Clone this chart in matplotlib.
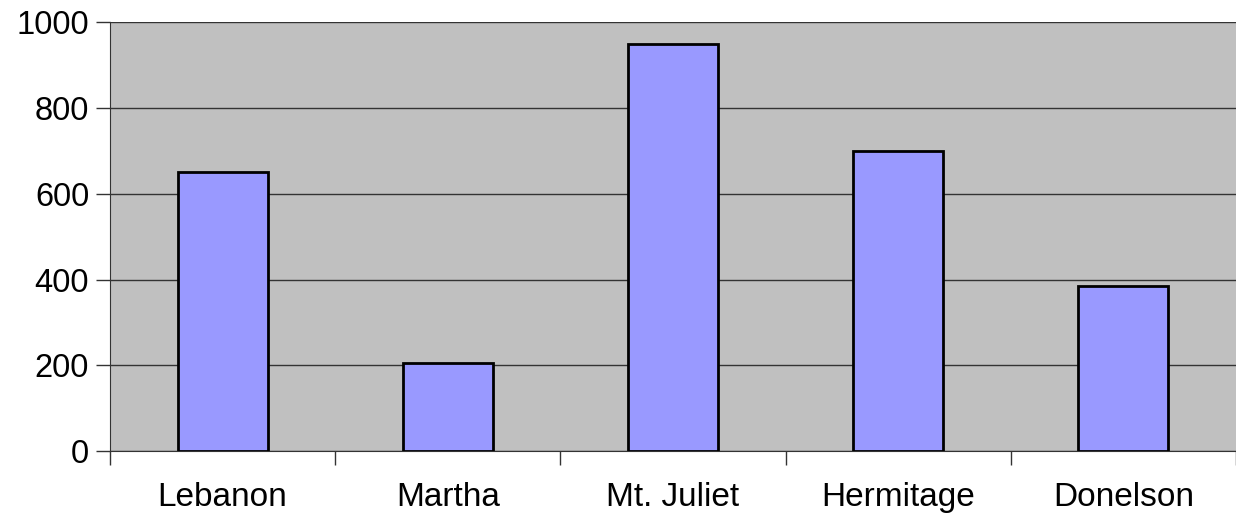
import numpy as np
import matplotlib.pyplot as plt

plt.rcParams['font.family'] = ['Liberation Sans', 'DejaVu Sans']

# data
towns = ['Lebanon', 'Martha', 'Mt. Juliet', 'Hermitage', 'Donelson']
values = [650, 205, 950, 700, 385]
yticks = [0, 200, 400, 600, 800, 1000]

fig = plt.figure(figsize=(12.36, 5.22), dpi=100)
ax = fig.add_axes([0.089, 0.136, 0.911, 0.821])
ax.set_facecolor('#C0C0C0')

x = np.arange(len(towns))
ax.bar(x, values, width=0.4, color='#9999FF', edgecolor='black', linewidth=2, zorder=3)

ax.set_xlim(-0.5, len(towns) - 0.5)
ax.set_ylim(0, 1000)
ax.set_yticks(yticks)
ax.yaxis.grid(True, color='#333333', linewidth=1, zorder=0)

# category boundaries get the tick marks, labels sit in the middle
ax.set_xticks(np.arange(len(towns) + 1) - 0.5)
ax.set_xticklabels([])
ax.set_xticks(x, minor=True)
ax.set_xticklabels(towns, minor=True)
ax.tick_params(axis='x', which='minor', length=0, pad=22, labelsize=24)
ax.tick_params(axis='x', which='major', length=10, width=1, color='#333333')
ax.tick_params(axis='y', length=10, width=1, color='#333333', labelsize=23.5, pad=5)

for s in ['top', 'right']:
    ax.spines[s].set_visible(False)
ax.spines['left'].set_color('#333333')
ax.spines['bottom'].set_color('#333333')

fig.savefig('out.png', dpi=100)
